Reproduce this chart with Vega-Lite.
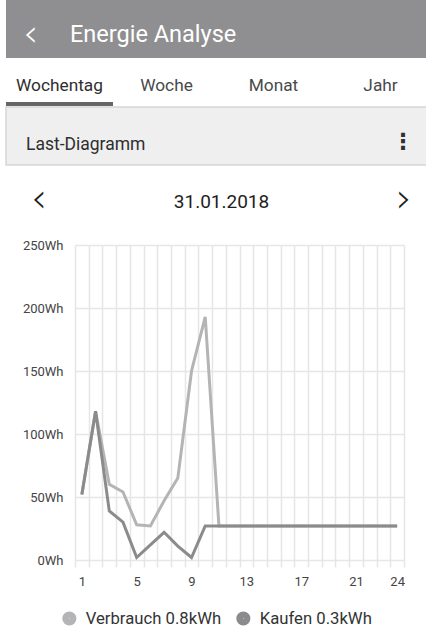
{
  "$schema": "https://vega.github.io/schema/vega-lite/v6.json",
  "padding": {"left": 5, "top": 0, "right": 0, "bottom": 0},
  "background": "white",
  "spacing": 0,
  "config": {"view": {"stroke": null}, "font": "Roboto", "concat": {"spacing": 0}, "legend": {"layout": {"bottom": {"anchor": "middle"}}}},
  "datasets": {
    "header": [
      {"item": "back", "label": "‹"},
      {"item": "title", "label": "Energie Analyse"}
    ],
    "tabs": [
      {"tab": "Wochentag", "active": "yes"},
      {"tab": "Woche", "active": "no"},
      {"tab": "Monat", "active": "no"},
      {"tab": "Jahr", "active": "no"}
    ],
    "section": [
      {"item": "name", "label": "Last-Diagramm"},
      {"item": "menu", "label": "⋮"}
    ],
    "date": [
      {"item": "prev", "label": "‹"},
      {"item": "date", "label": "31.01.2018"},
      {"item": "next", "label": "›"}
    ],
    "energy": [
      {"hour": 1, "wh": 52, "series": "Verbrauch 0.8kWh"},
      {"hour": 2, "wh": 118, "series": "Verbrauch 0.8kWh"},
      {"hour": 3, "wh": 60, "series": "Verbrauch 0.8kWh"},
      {"hour": 4, "wh": 54, "series": "Verbrauch 0.8kWh"},
      {"hour": 5, "wh": 28, "series": "Verbrauch 0.8kWh"},
      {"hour": 6, "wh": 27, "series": "Verbrauch 0.8kWh"},
      {"hour": 7, "wh": 47, "series": "Verbrauch 0.8kWh"},
      {"hour": 8, "wh": 65, "series": "Verbrauch 0.8kWh"},
      {"hour": 9, "wh": 150, "series": "Verbrauch 0.8kWh"},
      {"hour": 10, "wh": 193, "series": "Verbrauch 0.8kWh"},
      {"hour": 11, "wh": 27, "series": "Verbrauch 0.8kWh"},
      {"hour": 12, "wh": 27, "series": "Verbrauch 0.8kWh"},
      {"hour": 13, "wh": 27, "series": "Verbrauch 0.8kWh"},
      {"hour": 14, "wh": 27, "series": "Verbrauch 0.8kWh"},
      {"hour": 15, "wh": 27, "series": "Verbrauch 0.8kWh"},
      {"hour": 16, "wh": 27, "series": "Verbrauch 0.8kWh"},
      {"hour": 17, "wh": 27, "series": "Verbrauch 0.8kWh"},
      {"hour": 18, "wh": 27, "series": "Verbrauch 0.8kWh"},
      {"hour": 19, "wh": 27, "series": "Verbrauch 0.8kWh"},
      {"hour": 20, "wh": 27, "series": "Verbrauch 0.8kWh"},
      {"hour": 21, "wh": 27, "series": "Verbrauch 0.8kWh"},
      {"hour": 22, "wh": 27, "series": "Verbrauch 0.8kWh"},
      {"hour": 23, "wh": 27, "series": "Verbrauch 0.8kWh"},
      {"hour": 24, "wh": 27, "series": "Verbrauch 0.8kWh"},
      {"hour": 1, "wh": 52, "series": "Kaufen 0.3kWh"},
      {"hour": 2, "wh": 118, "series": "Kaufen 0.3kWh"},
      {"hour": 3, "wh": 39, "series": "Kaufen 0.3kWh"},
      {"hour": 4, "wh": 30, "series": "Kaufen 0.3kWh"},
      {"hour": 5, "wh": 2, "series": "Kaufen 0.3kWh"},
      {"hour": 6, "wh": 12, "series": "Kaufen 0.3kWh"},
      {"hour": 7, "wh": 22, "series": "Kaufen 0.3kWh"},
      {"hour": 8, "wh": 11, "series": "Kaufen 0.3kWh"},
      {"hour": 9, "wh": 2, "series": "Kaufen 0.3kWh"},
      {"hour": 10, "wh": 27, "series": "Kaufen 0.3kWh"},
      {"hour": 11, "wh": 27, "series": "Kaufen 0.3kWh"},
      {"hour": 12, "wh": 27, "series": "Kaufen 0.3kWh"},
      {"hour": 13, "wh": 27, "series": "Kaufen 0.3kWh"},
      {"hour": 14, "wh": 27, "series": "Kaufen 0.3kWh"},
      {"hour": 15, "wh": 27, "series": "Kaufen 0.3kWh"},
      {"hour": 16, "wh": 27, "series": "Kaufen 0.3kWh"},
      {"hour": 17, "wh": 27, "series": "Kaufen 0.3kWh"},
      {"hour": 18, "wh": 27, "series": "Kaufen 0.3kWh"},
      {"hour": 19, "wh": 27, "series": "Kaufen 0.3kWh"},
      {"hour": 20, "wh": 27, "series": "Kaufen 0.3kWh"},
      {"hour": 21, "wh": 27, "series": "Kaufen 0.3kWh"},
      {"hour": 22, "wh": 27, "series": "Kaufen 0.3kWh"},
      {"hour": 23, "wh": 27, "series": "Kaufen 0.3kWh"},
      {"hour": 24, "wh": 27, "series": "Kaufen 0.3kWh"}
    ]
  },
  "vconcat": [
    {
      "width": 421,
      "height": 58,
      "view": {"fill": "#8f8f91", "stroke": null},
      "data": {"name": "header"},
      "layer": [
        {
          "transform": [{"filter": "datum.item == 'back'"}],
          "mark": {"type": "text", "align": "left", "baseline": "alphabetic", "dy": 16.5, "color": "white", "fontSize": 38, "font": "DejaVu Sans", "fontWeight": 300}
        },
        {
          "transform": [{"filter": "datum.item == 'title'"}],
          "mark": {"type": "text", "align": "left", "baseline": "alphabetic", "dy": 12.7, "color": "white", "fontSize": 23.5}
        }
      ],
      "encoding": {
        "x": {"field": "item", "type": "nominal", "scale": {"type": "point", "domain": ["back", "title"], "range": [17, 64], "padding": 0}, "axis": null},
        "text": {"field": "label"}
      }
    },
    {
      "width": 421,
      "height": 44,
      "data": {"name": "tabs"},
      "mark": {"type": "text", "baseline": "alphabetic", "dy": 10.7, "fontSize": 17.3},
      "encoding": {
        "x": {"field": "tab", "type": "nominal", "scale": {"type": "band", "domain": ["Wochentag", "Woche", "Monat", "Jahr"], "range": [0, 428], "paddingInner": 0, "paddingOuter": 0}, "axis": null},
        "text": {"field": "tab"},
        "color": {"condition": {"test": "datum.active == 'yes'", "value": "#2e2e2e"}, "value": "#4a4a4a"}
      }
    },
    {
      "width": 421,
      "height": 4,
      "data": {"name": "tabs"},
      "transform": [{"filter": "datum.active == 'yes'"}],
      "mark": {"type": "rect", "color": "#666666"},
      "encoding": {
        "x": {"field": "tab", "type": "nominal", "scale": {"type": "band", "domain": ["Wochentag", "Woche", "Monat", "Jahr"], "range": [0, 428], "paddingInner": 0, "paddingOuter": 0}, "axis": null}
      }
    },
    {
      "width": 421,
      "height": 58,
      "view": {"fill": "#efefef", "stroke": "#d6d6d6", "strokeWidth": 1.5},
      "data": {"name": "section"},
      "layer": [
        {
          "transform": [{"filter": "datum.item == 'name'"}],
          "mark": {"type": "text", "align": "left", "baseline": "alphabetic", "dy": 14.3, "fontSize": 17.5, "color": "#2e2e2e"}
        },
        {
          "transform": [{"filter": "datum.item == 'menu'"}],
          "mark": {"type": "text", "align": "center", "baseline": "middle", "dy": 6, "fontSize": 22, "fontWeight": "bold", "font": "DejaVu Sans", "color": "#2e2e2e"}
        }
      ],
      "encoding": {
        "x": {"field": "item", "type": "nominal", "scale": {"type": "point", "domain": ["name", "menu"], "range": [20, 397], "padding": 0}, "axis": null},
        "text": {"field": "label"}
      }
    },
    {
      "width": 421,
      "height": 73,
      "data": {"name": "date"},
      "layer": [
        {
          "transform": [{"filter": "datum.item == 'date'"}],
          "mark": {"type": "text", "align": "center", "baseline": "alphabetic", "dy": 5.2, "fontSize": 19, "color": "#1e1e1e"}
        },
        {
          "transform": [{"filter": "datum.item != 'date'"}],
          "mark": {"type": "text", "align": "center", "baseline": "alphabetic", "dy": 9, "fontSize": 40, "font": "DejaVu Sans", "fontWeight": 300, "color": "#1e1e1e"}
        }
      ],
      "encoding": {
        "x": {"field": "item", "type": "nominal", "scale": {"type": "point", "domain": ["prev", "date", "next"], "range": [33, 398], "padding": 0}, "axis": null},
        "text": {"field": "label"}
      }
    },
    {
      "width": 398,
      "height": 315,
      "data": {"name": "energy"},
      "mark": {"type": "line", "strokeWidth": 3, "strokeJoin": "miter"},
      "encoding": {
        "x": {
          "field": "hour",
          "type": "quantitative",
          "scale": {"domain": [0.5, 24.5], "nice": false, "zero": false, "range": [69, 398]},
          "axis": {
            "values": [0.5, 1.5, 2.5, 3.5, 4.5, 5.5, 6.5, 7.5, 8.5, 9.5, 10.5, 11.5, 12.5, 13.5, 14.5, 15.5, 16.5, 17.5, 18.5, 19.5, 20.5, 21.5, 22.5, 23.5, 24.5],
            "labelExpr": "indexof([0.5, 4.5, 8.5, 12.5, 16.5, 20.5, 23.5], datum.value) >= 0 ? toString(datum.value + 0.5) : ''",
            "labelOffset": 6.86,
            "labelOverlap": false,
            "labelBound": false,
            "labelFlush": false,
            "labelFontSize": 13,
            "labelColor": "#444444",
            "labelPadding": 8,
            "grid": true,
            "gridColor": "#e6e6e6",
            "gridWidth": 1.5,
            "domain": false,
            "ticks": true,
            "tickColor": "#e6e6e6",
            "tickWidth": 1.5,
            "tickSize": 7,
            "title": null
          }
        },
        "y": {
          "field": "wh",
          "type": "quantitative",
          "scale": {"domain": [0, 250], "nice": false},
          "axis": {
            "values": [0, 50, 100, 150, 200, 250],
            "labelExpr": "datum.value + 'Wh'",
            "labelFontSize": 13,
            "labelColor": "#444444",
            "labelPadding": -57,
            "grid": true,
            "gridColor": "#e6e6e6",
            "gridWidth": 1.5,
            "domain": false,
            "ticks": false,
            "minExtent": 0,
            "maxExtent": 0,
            "title": null
          }
        },
        "color": {
          "field": "series",
          "type": "nominal",
          "sort": null,
          "scale": {"domain": ["Verbrauch 0.8kWh", "Kaufen 0.3kWh"], "range": ["#b4b4b6", "#8b8b8d"]},
          "legend": {
            "orient": "bottom",
            "direction": "horizontal",
            "title": null,
            "symbolType": "circle",
            "symbolSize": 44,
            "symbolStrokeWidth": 7.5,
            "labelFontSize": 16.7,
            "labelColor": "#333333",
            "labelOffset": 8,
            "columnPadding": 3,
            "offset": 22
          }
        }
      }
    }
  ]
}
